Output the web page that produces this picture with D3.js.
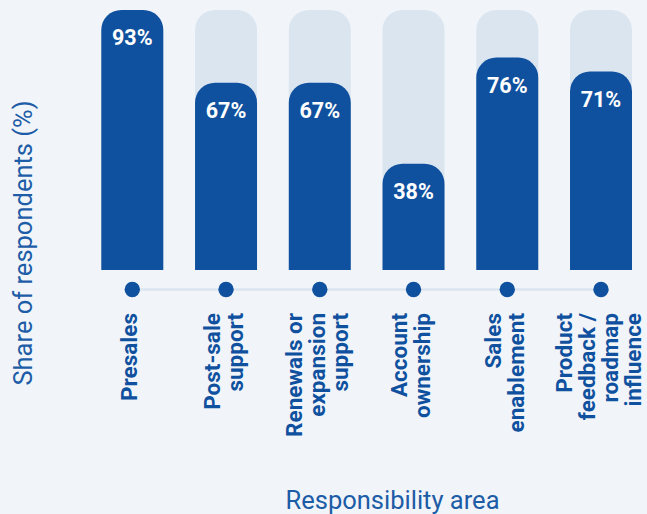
<!DOCTYPE html>
<html>
<head>
<meta charset="utf-8">
<script src="https://cdn.jsdelivr.net/npm/d3@7"></script>
<style>
  html, body { margin: 0; padding: 0; background: #f1f5fa; }
  svg { display: block; }
</style>
</head>
<body>
<svg id="chart" width="647" height="514"></svg>
<script>
// Share of respondents per responsibility area
const categories = [
  "Presales",
  "Post-sale\nsupport",
  "Renewals or\nexpansion\nsupport",
  "Account\nownership",
  "Sales\nenablement",
  "Product\nfeedback /\nroadmap\ninfluence"
];
const shares = [93, 67, 67, 38, 76, 71];
const yTitle = "Share of respondents (%)";
const xTitle = "Responsibility area";

const W = 647, H = 514;
const plot = { left: 101.3, right: 632, top: 10, bottom: 270 };
const barColor = "#0f519e";
const trackColor = "#dbe5f0";
const textColor = "#0f519e";
const titleColor = "#1d5ca6";

const data = categories.map((c, i) => ({ name: c, value: shares[i] }));

const svg = d3.select("#chart");
svg.append("rect").attr("width", W).attr("height", H).attr("fill", "#f1f5fa");

const x = d3.scaleBand()
  .domain(categories)
  .range([plot.left, plot.right])
  .paddingInner(0.3387)
  .paddingOuter(0);

const maxVal = d3.max(shares);
const y = d3.scaleLinear().domain([0, maxVal]).range([plot.bottom, plot.top]);

// Path of a bar with rounded top corners and square bottom
function topRounded(x0, y0, w, h, r) {
  r = Math.min(r, w / 2, h);
  return `M${x0},${y0 + h}` +
    `V${y0 + r}` +
    `A${r},${r} 0 0 1 ${x0 + r},${y0}` +
    `H${x0 + w - r}` +
    `A${r},${r} 0 0 1 ${x0 + w},${y0 + r}` +
    `V${y0 + h}Z`;
}

const radius = 20;

// background tracks up to the largest value
svg.append("g").selectAll("path")
  .data(data)
  .join("path")
  .attr("d", d => topRounded(x(d.name), y(maxVal), x.bandwidth(), y(0) - y(maxVal), radius))
  .attr("fill", trackColor);

// value bars
svg.append("g").selectAll("path")
  .data(data)
  .join("path")
  .attr("d", d => topRounded(x(d.name), y(d.value), x.bandwidth(), y(0) - y(d.value), radius))
  .attr("fill", barColor);

// value labels inside bar tops
svg.append("g").selectAll("text")
  .data(data)
  .join("text")
  .attr("x", d => x(d.name) + x.bandwidth() / 2)
  .attr("y", d => y(d.value) + 35)
  .attr("text-anchor", "middle")
  .attr("font-family", "Roboto, sans-serif")
  .attr("font-weight", 700)
  .attr("font-size", 21.5)
  .attr("fill", "#ffffff")
  .text(d => `${d.value}%`);

// axis line with category dots
const axisY = 289.5;
const cx = d => x(d) + x.bandwidth() / 2;
svg.append("line")
  .attr("x1", cx(categories[0]))
  .attr("x2", cx(categories[categories.length - 1]))
  .attr("y1", axisY).attr("y2", axisY)
  .attr("stroke", trackColor)
  .attr("stroke-width", 2.5);

svg.append("g").selectAll("circle")
  .data(categories)
  .join("circle")
  .attr("cx", cx)
  .attr("cy", axisY)
  .attr("r", 7.7)
  .attr("fill", barColor);

// rotated multi-line category labels
const lineGap = 23;
const labels = svg.append("g").selectAll("g")
  .data(categories)
  .join("g")
  .attr("transform", d => `translate(${cx(d)},313) rotate(-90)`);

labels.append("text")
  .attr("text-anchor", "end")
  .attr("font-family", "Roboto, sans-serif")
  .attr("font-weight", 700)
  .attr("font-size", 22.5)
  .attr("fill", textColor)
  .each(function (d) {
    const lines = d.split("\n");
    const n = lines.length;
    d3.select(this).selectAll("tspan")
      .data(lines)
      .join("tspan")
      .attr("x", 0)
      .attr("y", (l, i) => 5 + (i - (n - 1) / 2) * lineGap)
      .text(l => l);
  });

// axis titles
svg.append("text")
  .attr("transform", "translate(32,243) rotate(-90)")
  .attr("text-anchor", "middle")
  .attr("font-family", "Roboto, sans-serif")
  .attr("font-size", 25.5)
  .attr("fill", titleColor)
  .text(yTitle);

svg.append("text")
  .attr("x", 392.5)
  .attr("y", 509)
  .attr("text-anchor", "middle")
  .attr("font-family", "Roboto, sans-serif")
  .attr("font-size", 25.5)
  .attr("fill", titleColor)
  .text(xTitle);
</script>
</body>
</html>
